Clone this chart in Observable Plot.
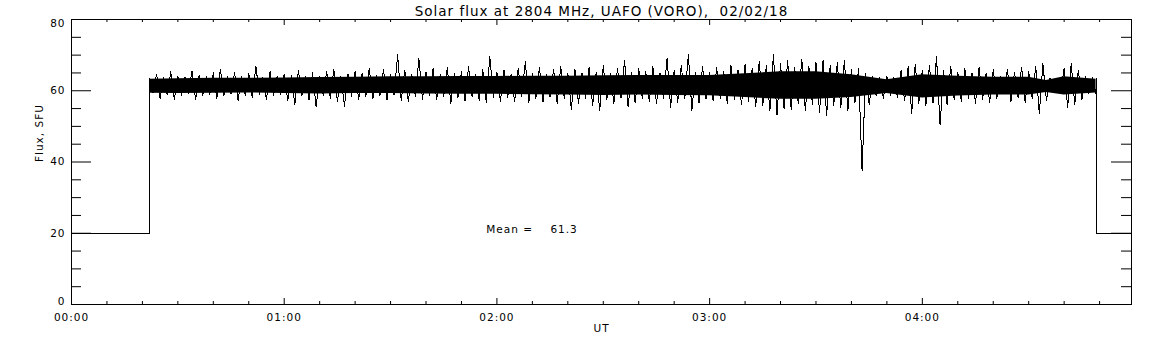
<!DOCTYPE html>
<html><head><meta charset="utf-8">
<script src="https://cdn.jsdelivr.net/npm/d3@7"></script>
<script src="https://cdn.jsdelivr.net/npm/@observablehq/plot@0.6"></script>
<style>
html,body{margin:0;padding:0;background:#fff;}
svg text{white-space:pre;letter-spacing:1px;}
</style></head><body><div id="chart"></div>
<script>
// ---- text ----
const title = "Solar flux at 2804 MHz, UAFO (VORO),  02/02/18";
const xLabel = "UT";
const yLabel = "Flux, SFU";
const meanText = "Mean =    61.3";

// ---- tick values (minutes after 00:00 UT / SFU) ----
const xMajor = [0, 60, 120, 180, 240];
const xMajorLabels = ["00:00", "01:00", "02:00", "03:00", "04:00"];
const xMinor = [10,20,30,40,50,70,80,90,100,110,130,140,150,160,170,190,200,210,220,230,250,260,270,280,290];
const yMajor = [0, 20, 40, 60, 80];
const yMinor = [5,10,15,25,30,35,45,50,55,65,70,75];

// ---- off-sun level and observation window (minutes) ----
const offLevel = 20;
const obsStart = 22, obsEnd = 289, spanEnd = 299;
const startLevel = 61.8, endLevel = 63.5;

// ---- noisy flux: per 2-minute bin, the upper and lower extremes (SFU) ----
const binStart = 22, binStep = 2;
const binHi = [
 63.4,64.6,63.7,65.3,64.0,63.8,65.6,64.3,63.9,65.0,
 66.0,63.9,65.2,64.0,64.9,66.9,63.8,65.4,64.1,64.7,
 64.2,65.6,63.9,65.0,64.0,65.4,66.0,64.1,64.6,65.5,
 65.0,66.3,64.4,65.9,64.6,70.1,65.8,64.5,69.0,65.2,
 66.2,64.6,66.5,64.9,65.5,66.7,64.5,65.9,69.5,65.1,
 65.8,64.7,66.3,68.1,64.8,66.6,64.6,66.0,66.9,65.0,
 66.1,64.9,66.5,65.2,67.0,64.8,66.2,68.6,65.0,66.3,
 65.3,66.8,64.9,69.2,65.6,67.1,70.1,65.2,66.9,65.1,
 66.4,65.3,67.2,65.8,67.4,66.2,68.3,67.0,70.1,67.6,
 68.4,66.5,68.8,66.9,68.0,68.6,67.0,67.9,68.4,65.9,
 66.2,64.8,64.0,63.6,64.1,63.7,65.8,66.9,67.5,65.8,
 67.0,69.5,65.6,66.9,65.2,66.3,65.0,66.5,64.9,65.9,
 64.0,66.0,65.2,66.6,65.5,66.8,67.6,63.6,63.2,66.3,
 67.6,65.8,64.0,63.8
];
const binLo = [
 59.4,57.9,58.9,57.6,58.7,59.1,57.4,58.6,58.9,57.8,
 58.6,59.0,57.3,58.7,58.0,58.9,57.5,58.6,59.0,57.2,
 56.2,58.6,57.4,55.6,58.7,57.8,57.0,55.7,58.5,57.6,
 58.3,57.7,58.6,57.5,58.8,57.2,57.0,58.5,57.6,58.7,
 57.6,58.4,56.5,58.1,57.0,58.4,57.3,56.8,58.2,57.1,
 58.1,57.0,58.3,56.6,57.9,56.9,58.2,56.4,57.8,54.8,
 56.5,57.9,55.8,54.5,57.5,56.4,57.9,55.4,56.6,57.8,
 57.0,56.4,57.9,55.4,56.7,57.8,54.5,56.5,57.6,57.2,
 57.8,56.4,57.6,56.0,57.1,55.5,55.9,54.3,53.1,54.9,
 54.8,56.3,54.5,56.1,54.0,53.1,55.8,55.2,54.5,56.6,
 37.6,56.2,58.6,57.9,58.7,58.0,57.2,53.6,56.4,55.8,
 56.5,50.3,56.0,57.4,56.9,57.8,56.5,57.6,56.8,57.7,
 59.2,57.0,58.1,56.8,57.8,53.6,57.3,59.4,59.5,55.4,
 56.1,57.5,59.2,59.0
];

// ---- dense core of the signal (minutes, SFU) ----
const coreT  = [22,30,40,50,60,70,80,90,100,110,120,130,140,150,160,170,180,190,200,210,220,230,240,250,260,270,275,280,289];
const coreLo = [59.3,59.2,59.3,59.4,59.2,59.1,59.2,59.2,59.1,59.0,59.0,58.9,58.8,58.7,58.8,58.7,58.6,58.1,57.6,57.6,58.1,59.2,58.0,58.5,58.8,58.8,59.5,58.8,59.4];
const coreHi = [63.2,63.4,63.5,63.5,63.6,63.7,63.8,63.9,63.9,64.0,64.0,64.1,64.1,64.2,64.3,64.3,64.3,64.8,65.3,65.3,64.5,63.1,64.5,64.1,63.8,63.8,62.9,63.9,63.2];

// ---- build tables ----
const rows = [{t: 0, v: offLevel}, {t: obsStart, v: offLevel}, {t: obsStart, v: startLevel}];
binHi.forEach((h, i) => {
  const t = binStart + i * binStep;
  rows.push({t, v: h});
  rows.push({t: t + 1, v: binLo[i]});
});
rows.push({t: obsEnd, v: endLevel}, {t: obsEnd, v: offLevel}, {t: spanEnd, v: offLevel});
const coreRows = coreT.map((t, i) => ({t, lo: coreLo[i], hi: coreHi[i]}));

const W = 1152, H = 345, mL = 71, mR = 21, mT = 19, mB = 41;
const pw = W - mL - mR, ph = H - mT - mB;

const chart = Plot.plot({
  width: W, height: H,
  marginLeft: mL, marginRight: mR, marginTop: mT, marginBottom: mB,
  x: {domain: [0, spanEnd], axis: null},
  y: {domain: [0, 80], axis: null},
  style: {fontFamily: "'DejaVu Sans', sans-serif", fontSize: "10.5px", background: "#fff", color: "#000", overflow: "visible"},
  marks: [
    Plot.areaY(coreRows, {x: "t", y1: "lo", y2: "hi", fill: "#000"}),
    Plot.line(rows, {x: "t", y: "v", stroke: "#000", strokeWidth: 1, shapeRendering: "crispEdges"}),
    Plot.frame({stroke: "#000"}),
    // y ticks left / right
    Plot.tickY(yMinor, {y: d => d, insetRight: pw - 10, stroke: "#000"}),
    Plot.tickY(yMajor, {y: d => d, insetRight: pw - 20, stroke: "#000"}),
    Plot.tickY(yMinor, {y: d => d, insetLeft: pw - 10, stroke: "#000"}),
    Plot.tickY(yMajor, {y: d => d, insetLeft: pw - 20, stroke: "#000"}),
    // x ticks bottom / top
    Plot.tickX(xMinor, {x: d => d, insetTop: ph - 3, stroke: "#000"}),
    Plot.tickX(xMajor, {x: d => d, insetTop: ph - 6, stroke: "#000"}),
    Plot.tickX(xMinor, {x: d => d, insetBottom: ph - 3, stroke: "#000"}),
    Plot.tickX(xMajor, {x: d => d, insetBottom: ph - 6, stroke: "#000"}),
    // y tick labels
    Plot.text(yMajor, {filter: d => d > 0 && d < 80, y: d => d, text: d => String(d), frameAnchor: "left", textAnchor: "end", dx: -6, lineAnchor: "middle", fill: "#000"}),
    Plot.text(yMajor, {filter: d => d === 0, y: d => d, text: d => String(d), frameAnchor: "left", textAnchor: "end", dx: -6, lineAnchor: "bottom", fill: "#000"}),
    Plot.text(yMajor, {filter: d => d === 80, y: d => d, text: d => String(d), frameAnchor: "left", textAnchor: "end", dx: -6, lineAnchor: "top", fill: "#000"}),
    // x tick labels
    Plot.text(xMajor, {x: d => d, text: (d, i) => xMajorLabels[i], frameAnchor: "bottom", lineAnchor: "top", dy: 9, fill: "#000"}),
    // axis titles
    Plot.text([xLabel], {text: d => d, frameAnchor: "bottom", lineAnchor: "top", dy: 20, fill: "#000"}),
    Plot.text([yLabel], {text: d => d, frameAnchor: "left", rotate: -90, dx: -32, lineAnchor: "middle", fill: "#000"}),
    // title
    Plot.text([title], {text: d => d, frameAnchor: "top", lineAnchor: "bottom", dy: -4, fontSize: 13.5, fill: "#000"}),
    // mean annotation
    Plot.text([meanText], {text: d => d, x: 117, y: offLevel, textAnchor: "start", lineAnchor: "bottom", fill: "#000"})
  ]
});
document.getElementById("chart").appendChild(chart);
</script></body></html>
